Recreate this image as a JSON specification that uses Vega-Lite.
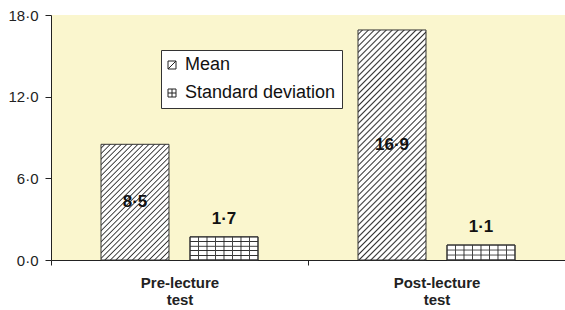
{
  "$schema": "https://vega.github.io/schema/vega-lite/v6.json",
  "width": 514,
  "height": 245,
  "autosize": {"type": "none"},
  "padding": {"left": 51, "top": 15, "right": 0, "bottom": 50},
  "background": "white",
  "config": {
    "font": "Liberation Sans",
    "view": {"stroke": null, "fill": "#FAF6CE"},
    "locale": {"number": {"decimal": "·", "thousands": ",", "grouping": [3], "currency": ["", ""]}}
  },
  "data": {
    "values": [
      {"session": "Pre-lecture test", "series": "Mean", "value": 8.5},
      {"session": "Pre-lecture test", "series": "Standard deviation", "value": 1.7},
      {"session": "Post-lecture test", "series": "Mean", "value": 16.9},
      {"session": "Post-lecture test", "series": "Standard deviation", "value": 1.1}
    ]
  },
  "resolve": {"scale": {"y": "independent"}},
  "layer": [
    {
      "mark": {"type": "bar", "stroke": "#333", "strokeWidth": 1},
      "encoding": {
        "x": {"field": "session", "type": "nominal", "sort": ["Pre-lecture test", "Post-lecture test"],
              "scale": {"paddingInner": 0, "paddingOuter": 0},
              "axis": {"title": null, "labelAngle": 0, "tickBand": "extent", "labelFontWeight": "bold", "labelFontSize": 15,
                       "labelLineHeight": 17, "labelExpr": "split(datum.label, ' ')", "tickSize": 5, "labelPadding": 10,
                       "domainColor": "#222", "tickColor": "#222", "labelColor": "#222"}},
        "xOffset": {"field": "series", "type": "nominal", "scale": {"paddingInner": 0.236, "paddingOuter": 0.562}},
        "y": {"field": "value", "type": "quantitative", "scale": {"domain": [0, 18], "nice": false},
              "axis": {"values": [0, 6, 12, 18], "format": ".1f", "title": null, "grid": false, "tickSize": 6,
                       "labelFontSize": 15, "labelPadding": 7, "domainColor": "#222", "tickColor": "#222", "labelColor": "#222"}},
        "fill": {
          "condition": [
            {"test": "datum.series === 'Mean' && datum.session === 'Pre-lecture test'",
             "value": {"gradient": "linear", "x1": 0, "y1": 0, "x2": 0.6937, "y2": 1.18, "stops": [
              {"offset":0.014,"color":"#fff"},{"offset":0.021,"color":"#333"},{"offset":0.028,"color":"#fff"},
              {"offset":0.044,"color":"#fff"},{"offset":0.051,"color":"#333"},{"offset":0.058,"color":"#fff"},
              {"offset":0.074,"color":"#fff"},{"offset":0.081,"color":"#333"},{"offset":0.088,"color":"#fff"},
              {"offset":0.104,"color":"#fff"},{"offset":0.111,"color":"#333"},{"offset":0.118,"color":"#fff"},
              {"offset":0.134,"color":"#fff"},{"offset":0.141,"color":"#333"},{"offset":0.148,"color":"#fff"},
              {"offset":0.164,"color":"#fff"},{"offset":0.171,"color":"#333"},{"offset":0.178,"color":"#fff"},
              {"offset":0.194,"color":"#fff"},{"offset":0.201,"color":"#333"},{"offset":0.208,"color":"#fff"},
              {"offset":0.224,"color":"#fff"},{"offset":0.231,"color":"#333"},{"offset":0.238,"color":"#fff"},
              {"offset":0.254,"color":"#fff"},{"offset":0.261,"color":"#333"},{"offset":0.268,"color":"#fff"},
              {"offset":0.284,"color":"#fff"},{"offset":0.291,"color":"#333"},{"offset":0.298,"color":"#fff"},
              {"offset":0.314,"color":"#fff"},{"offset":0.321,"color":"#333"},{"offset":0.328,"color":"#fff"},
              {"offset":0.344,"color":"#fff"},{"offset":0.351,"color":"#333"},{"offset":0.358,"color":"#fff"},
              {"offset":0.374,"color":"#fff"},{"offset":0.381,"color":"#333"},{"offset":0.388,"color":"#fff"},
              {"offset":0.404,"color":"#fff"},{"offset":0.411,"color":"#333"},{"offset":0.418,"color":"#fff"},
              {"offset":0.434,"color":"#fff"},{"offset":0.441,"color":"#333"},{"offset":0.448,"color":"#fff"},
              {"offset":0.464,"color":"#fff"},{"offset":0.471,"color":"#333"},{"offset":0.478,"color":"#fff"},
              {"offset":0.494,"color":"#fff"},{"offset":0.501,"color":"#333"},{"offset":0.508,"color":"#fff"},
              {"offset":0.524,"color":"#fff"},{"offset":0.531,"color":"#333"},{"offset":0.538,"color":"#fff"},
              {"offset":0.554,"color":"#fff"},{"offset":0.561,"color":"#333"},{"offset":0.568,"color":"#fff"},
              {"offset":0.584,"color":"#fff"},{"offset":0.591,"color":"#333"},{"offset":0.598,"color":"#fff"},
              {"offset":0.614,"color":"#fff"},{"offset":0.621,"color":"#333"},{"offset":0.628,"color":"#fff"},
              {"offset":0.644,"color":"#fff"},{"offset":0.651,"color":"#333"},{"offset":0.658,"color":"#fff"},
              {"offset":0.674,"color":"#fff"},{"offset":0.681,"color":"#333"},{"offset":0.688,"color":"#fff"},
              {"offset":0.704,"color":"#fff"},{"offset":0.711,"color":"#333"},{"offset":0.718,"color":"#fff"},
              {"offset":0.734,"color":"#fff"},{"offset":0.741,"color":"#333"},{"offset":0.748,"color":"#fff"},
              {"offset":0.764,"color":"#fff"},{"offset":0.771,"color":"#333"},{"offset":0.778,"color":"#fff"},
              {"offset":0.794,"color":"#fff"},{"offset":0.801,"color":"#333"},{"offset":0.808,"color":"#fff"},
              {"offset":0.824,"color":"#fff"},{"offset":0.831,"color":"#333"},{"offset":0.838,"color":"#fff"},
              {"offset":0.854,"color":"#fff"},{"offset":0.861,"color":"#333"},{"offset":0.868,"color":"#fff"},
              {"offset":0.884,"color":"#fff"},{"offset":0.891,"color":"#333"},{"offset":0.898,"color":"#fff"},
              {"offset":0.914,"color":"#fff"},{"offset":0.921,"color":"#333"},{"offset":0.928,"color":"#fff"},
              {"offset":0.944,"color":"#fff"},{"offset":0.951,"color":"#333"},{"offset":0.958,"color":"#fff"},
              {"offset":0.974,"color":"#fff"},{"offset":0.981,"color":"#333"},{"offset":0.988,"color":"#fff"}
             ]}},
            {"test": "datum.series === 'Mean'",
             "value": {"gradient": "linear", "x1": 0, "y1": 0, "x2": 0.3523, "y2": 1.1915, "stops": [
              {"offset":0.01,"color":"#fff"},{"offset":0.015,"color":"#333"},{"offset":0.02,"color":"#fff"},
              {"offset":0.03,"color":"#fff"},{"offset":0.035,"color":"#333"},{"offset":0.04,"color":"#fff"},
              {"offset":0.05,"color":"#fff"},{"offset":0.055,"color":"#333"},{"offset":0.06,"color":"#fff"},
              {"offset":0.07,"color":"#fff"},{"offset":0.075,"color":"#333"},{"offset":0.08,"color":"#fff"},
              {"offset":0.09,"color":"#fff"},{"offset":0.095,"color":"#333"},{"offset":0.1,"color":"#fff"},
              {"offset":0.11,"color":"#fff"},{"offset":0.115,"color":"#333"},{"offset":0.12,"color":"#fff"},
              {"offset":0.13,"color":"#fff"},{"offset":0.135,"color":"#333"},{"offset":0.14,"color":"#fff"},
              {"offset":0.15,"color":"#fff"},{"offset":0.155,"color":"#333"},{"offset":0.16,"color":"#fff"},
              {"offset":0.17,"color":"#fff"},{"offset":0.175,"color":"#333"},{"offset":0.18,"color":"#fff"},
              {"offset":0.19,"color":"#fff"},{"offset":0.195,"color":"#333"},{"offset":0.2,"color":"#fff"},
              {"offset":0.21,"color":"#fff"},{"offset":0.215,"color":"#333"},{"offset":0.22,"color":"#fff"},
              {"offset":0.23,"color":"#fff"},{"offset":0.235,"color":"#333"},{"offset":0.24,"color":"#fff"},
              {"offset":0.25,"color":"#fff"},{"offset":0.255,"color":"#333"},{"offset":0.26,"color":"#fff"},
              {"offset":0.27,"color":"#fff"},{"offset":0.275,"color":"#333"},{"offset":0.28,"color":"#fff"},
              {"offset":0.29,"color":"#fff"},{"offset":0.295,"color":"#333"},{"offset":0.3,"color":"#fff"},
              {"offset":0.31,"color":"#fff"},{"offset":0.315,"color":"#333"},{"offset":0.32,"color":"#fff"},
              {"offset":0.33,"color":"#fff"},{"offset":0.335,"color":"#333"},{"offset":0.34,"color":"#fff"},
              {"offset":0.35,"color":"#fff"},{"offset":0.355,"color":"#333"},{"offset":0.36,"color":"#fff"},
              {"offset":0.37,"color":"#fff"},{"offset":0.375,"color":"#333"},{"offset":0.38,"color":"#fff"},
              {"offset":0.39,"color":"#fff"},{"offset":0.395,"color":"#333"},{"offset":0.4,"color":"#fff"},
              {"offset":0.41,"color":"#fff"},{"offset":0.415,"color":"#333"},{"offset":0.42,"color":"#fff"},
              {"offset":0.43,"color":"#fff"},{"offset":0.435,"color":"#333"},{"offset":0.44,"color":"#fff"},
              {"offset":0.45,"color":"#fff"},{"offset":0.455,"color":"#333"},{"offset":0.46,"color":"#fff"},
              {"offset":0.47,"color":"#fff"},{"offset":0.475,"color":"#333"},{"offset":0.48,"color":"#fff"},
              {"offset":0.49,"color":"#fff"},{"offset":0.495,"color":"#333"},{"offset":0.5,"color":"#fff"},
              {"offset":0.51,"color":"#fff"},{"offset":0.515,"color":"#333"},{"offset":0.52,"color":"#fff"},
              {"offset":0.53,"color":"#fff"},{"offset":0.535,"color":"#333"},{"offset":0.54,"color":"#fff"},
              {"offset":0.55,"color":"#fff"},{"offset":0.555,"color":"#333"},{"offset":0.56,"color":"#fff"},
              {"offset":0.57,"color":"#fff"},{"offset":0.575,"color":"#333"},{"offset":0.58,"color":"#fff"},
              {"offset":0.59,"color":"#fff"},{"offset":0.595,"color":"#333"},{"offset":0.6,"color":"#fff"},
              {"offset":0.61,"color":"#fff"},{"offset":0.615,"color":"#333"},{"offset":0.62,"color":"#fff"},
              {"offset":0.63,"color":"#fff"},{"offset":0.635,"color":"#333"},{"offset":0.64,"color":"#fff"},
              {"offset":0.65,"color":"#fff"},{"offset":0.655,"color":"#333"},{"offset":0.66,"color":"#fff"},
              {"offset":0.67,"color":"#fff"},{"offset":0.675,"color":"#333"},{"offset":0.68,"color":"#fff"},
              {"offset":0.69,"color":"#fff"},{"offset":0.695,"color":"#333"},{"offset":0.7,"color":"#fff"},
              {"offset":0.71,"color":"#fff"},{"offset":0.715,"color":"#333"},{"offset":0.72,"color":"#fff"},
              {"offset":0.73,"color":"#fff"},{"offset":0.735,"color":"#333"},{"offset":0.74,"color":"#fff"},
              {"offset":0.75,"color":"#fff"},{"offset":0.755,"color":"#333"},{"offset":0.76,"color":"#fff"},
              {"offset":0.77,"color":"#fff"},{"offset":0.775,"color":"#333"},{"offset":0.78,"color":"#fff"},
              {"offset":0.79,"color":"#fff"},{"offset":0.795,"color":"#333"},{"offset":0.8,"color":"#fff"},
              {"offset":0.81,"color":"#fff"},{"offset":0.815,"color":"#333"},{"offset":0.82,"color":"#fff"},
              {"offset":0.83,"color":"#fff"},{"offset":0.835,"color":"#333"},{"offset":0.84,"color":"#fff"},
              {"offset":0.85,"color":"#fff"},{"offset":0.855,"color":"#333"},{"offset":0.86,"color":"#fff"},
              {"offset":0.87,"color":"#fff"},{"offset":0.875,"color":"#333"},{"offset":0.88,"color":"#fff"},
              {"offset":0.89,"color":"#fff"},{"offset":0.895,"color":"#333"},{"offset":0.9,"color":"#fff"},
              {"offset":0.91,"color":"#fff"},{"offset":0.915,"color":"#333"},{"offset":0.92,"color":"#fff"},
              {"offset":0.93,"color":"#fff"},{"offset":0.935,"color":"#333"},{"offset":0.94,"color":"#fff"},
              {"offset":0.95,"color":"#fff"},{"offset":0.955,"color":"#333"},{"offset":0.96,"color":"#fff"},
              {"offset":0.97,"color":"#fff"},{"offset":0.975,"color":"#333"},{"offset":0.98,"color":"#fff"},
              {"offset":0.99,"color":"#fff"},{"offset":0.995,"color":"#333"},{"offset":1,"color":"#fff"}
             ]}},
            {"test": "datum.session === 'Pre-lecture test'",
             "value": {"gradient": "linear", "x1": 0, "y1": 0, "x2": 0, "y2": 1, "stops": [
              {"offset":0.17,"color":"#fff"},{"offset":0.188,"color":"#333"},{"offset":0.212,"color":"#333"},{"offset":0.23,"color":"#fff"},
              {"offset":0.37,"color":"#fff"},{"offset":0.388,"color":"#333"},{"offset":0.412,"color":"#333"},{"offset":0.43,"color":"#fff"},
              {"offset":0.57,"color":"#fff"},{"offset":0.588,"color":"#333"},{"offset":0.612,"color":"#333"},{"offset":0.63,"color":"#fff"},
              {"offset":0.77,"color":"#fff"},{"offset":0.788,"color":"#333"},{"offset":0.812,"color":"#333"},{"offset":0.83,"color":"#fff"}
             ]}}
          ],
          "value": {"gradient": "linear", "x1": 0, "y1": 0, "x2": 0, "y2": 1, "stops": [
            {"offset":0.288,"color":"#fff"},{"offset":0.315,"color":"#333"},{"offset":0.351,"color":"#333"},{"offset":0.378,"color":"#fff"},
            {"offset":0.622,"color":"#fff"},{"offset":0.649,"color":"#333"},{"offset":0.685,"color":"#333"},{"offset":0.712,"color":"#fff"}
          ]}
        }
      }
    },
    {
      "transform": [{"filter": "datum.series === 'Standard deviation'"}],
      "mark": {"type": "bar", "stroke": "#333", "strokeWidth": 1,
               "fill": {"gradient": "linear", "x1": 0, "y1": 0, "x2": 1, "y2": 0, "stops": [
                 {"offset":0.115,"color":"rgba(0,0,0,0)"},{"offset":0.121,"color":"#444"},{"offset":0.129,"color":"#444"},{"offset":0.135,"color":"rgba(0,0,0,0)"},
                 {"offset":0.24,"color":"rgba(0,0,0,0)"},{"offset":0.246,"color":"#444"},{"offset":0.254,"color":"#444"},{"offset":0.26,"color":"rgba(0,0,0,0)"},
                 {"offset":0.365,"color":"rgba(0,0,0,0)"},{"offset":0.371,"color":"#444"},{"offset":0.379,"color":"#444"},{"offset":0.385,"color":"rgba(0,0,0,0)"},
                 {"offset":0.49,"color":"rgba(0,0,0,0)"},{"offset":0.496,"color":"#444"},{"offset":0.504,"color":"#444"},{"offset":0.51,"color":"rgba(0,0,0,0)"},
                 {"offset":0.615,"color":"rgba(0,0,0,0)"},{"offset":0.621,"color":"#444"},{"offset":0.629,"color":"#444"},{"offset":0.635,"color":"rgba(0,0,0,0)"},
                 {"offset":0.74,"color":"rgba(0,0,0,0)"},{"offset":0.746,"color":"#444"},{"offset":0.754,"color":"#444"},{"offset":0.76,"color":"rgba(0,0,0,0)"},
                 {"offset":0.865,"color":"rgba(0,0,0,0)"},{"offset":0.871,"color":"#444"},{"offset":0.879,"color":"#444"},{"offset":0.885,"color":"rgba(0,0,0,0)"}
               ]}},
      "encoding": {
        "x": {"field": "session", "type": "nominal", "sort": ["Pre-lecture test", "Post-lecture test"]},
        "xOffset": {"field": "series", "type": "nominal"},
        "y": {"field": "value", "type": "quantitative", "scale": {"domain": [0, 18], "nice": false}, "axis": null}
      }
    },
    {
      "transform": [{"filter": "datum.series === 'Mean'"}],
      "mark": {"type": "text", "fontWeight": "bold", "fontSize": 17, "baseline": "middle", "color": "#111"},
      "encoding": {
        "x": {"field": "session", "type": "nominal", "sort": ["Pre-lecture test", "Post-lecture test"]},
        "xOffset": {"field": "series", "type": "nominal"},
        "y": {"field": "value", "type": "quantitative", "scale": {"domain": [0, 36], "nice": false}, "axis": null},
        "text": {"field": "value", "type": "quantitative", "format": ".1f"}
      }
    },
    {
      "transform": [{"filter": "datum.series === 'Standard deviation'"}],
      "mark": {"type": "text", "fontWeight": "bold", "fontSize": 17, "baseline": "alphabetic", "dy": -13, "color": "#111"},
      "encoding": {
        "x": {"field": "session", "type": "nominal", "sort": ["Pre-lecture test", "Post-lecture test"]},
        "xOffset": {"field": "series", "type": "nominal"},
        "y": {"field": "value", "type": "quantitative", "scale": {"domain": [0, 18], "nice": false}, "axis": null},
        "text": {"field": "value", "type": "quantitative", "format": ".1f"}
      }
    },
    {
      "mark": {"type": "point", "filled": false, "stroke": "#222", "strokeWidth": 1, "size": 64, "clip": true},
      "encoding": {
        "x": {"field": "session", "type": "nominal", "sort": ["Pre-lecture test", "Post-lecture test"]},
        "y": {"datum": -10, "type": "quantitative", "scale": {"domain": [0, 18], "nice": false}, "axis": null},
        "shape": {"field": "series", "type": "nominal",
                  "scale": {"range": ["M-1,-1L1,-1L1,1L-1,1Z M-1,1L1,-1", "M-1,-1L1,-1L1,1L-1,1Z M0,-1L0,1 M-1,0L1,0"]},
                  "legend": {"title": null, "orient": "none", "legendX": 110, "legendY": 35,
                             "fillColor": "white", "strokeColor": "#333", "padding": 6,
                             "labelFontSize": 18, "labelFont": "Liberation Sans", "labelColor": "#111",
                             "symbolSize": 64, "symbolStrokeColor": "#222", "symbolOffset": -4,
                             "symbolStrokeWidth": 1, "symbolOpacity": 1, "rowPadding": 10, "labelOffset": 4}}
      }
    }
  ]
}
